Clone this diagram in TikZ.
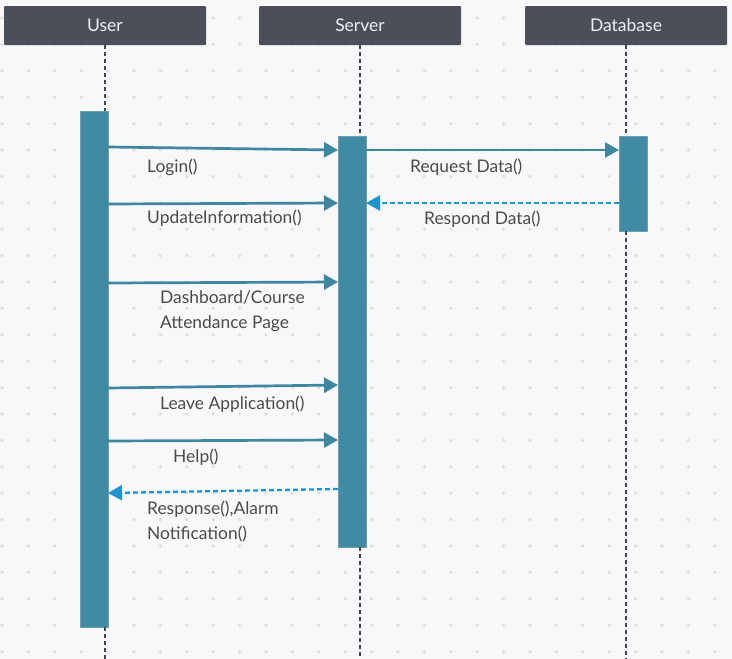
\documentclass[tikz,border=0pt]{standalone}
\usepackage{fontspec}
\setmainfont{Lato}
\usetikzlibrary{arrows.meta}
\definecolor{bgc}{HTML}{F8F8FA}
\definecolor{dotc}{HTML}{DCDCE1}
\definecolor{headc}{HTML}{4A4F59}
\definecolor{headtxt}{HTML}{F0F0F0}
\definecolor{barc}{HTML}{418AA3}
\definecolor{arrc}{HTML}{3E87A0}
\definecolor{retc}{HTML}{1B94CF}
\definecolor{lifec}{HTML}{40454F}
\definecolor{txtc}{HTML}{4B4B4B}
\tikzset{
  header/.style={fill=headc, draw=none, rounded corners=1pt, minimum width=202pt, minimum height=39pt, text=headtxt, font=\fontsize{17.5}{20}\selectfont, inner sep=0pt},
  actbar/.style={fill=barc, draw=barc!80!white, line width=0.6pt, minimum width=28pt, inner sep=0pt},
  lifeline/.style={draw=lifec, line width=2.2pt, dash pattern=on 4pt off 3pt},
  msg/.style={draw=arrc, line width=2.7pt, -{Triangle[length=14pt,width=15pt]}},
  ret/.style={draw=retc, line width=2.3pt, dash pattern=on 5pt off 3pt, -{Triangle[length=14pt,width=15pt]}},
  lbl/.style={text=txtc, font=\fontsize{17.4}{25}\selectfont, inner sep=0pt, align=left},
}
\begin{document}
\begin{tikzpicture}[x=1pt,y=-1pt]
\useasboundingbox (0,0) rectangle (732,659);
\fill[bgc] (0,0) rectangle (732,659);
% dot grid
\foreach \i in {0,...,27} {
  \foreach \j in {0,...,24} {
    \fill[dotc] ({2+26.4*\i},{18+26.4*\j}) circle (1.8pt);
  }
}
% headers
\node[header] (user) at (105,25.5) {User};
\node[header] (server) at (360,25.5) {Server};
\node[header] (db) at (626,25.5) {Database};
% activation bars
\node[actbar, minimum height=516pt] (ubar) at (94,369) {};
\node[actbar, minimum height=411pt] (sbar) at (352,341.5) {};
\node[actbar, minimum height=95pt] (dbar) at (633,183.5) {};
% lifelines
\coordinate (uend) at (105,659);
\coordinate (send) at (360,659);
\coordinate (dend) at (626,659);
\draw[lifeline] (user.south) -- (105,111);
\draw[lifeline] (105,627) -- (uend);
\draw[lifeline] (server.south) -- (360,136);
\draw[lifeline] (360,547) -- (send);
\draw[lifeline] (db.south) -- (626,136);
\draw[lifeline] (626,231) -- (dend);
% messages
\draw[msg] (108,147) -- (338,150);
\draw[msg] (366,150) -- (619,150);
\draw[msg] (108,204) -- (338,203);
\draw[ret] (619,203) -- (366,203);
\draw[msg] (108,283) -- (338,282);
\draw[msg] (108,388) -- (338,385);
\draw[msg] (108,441) -- (338,440);
\draw[ret] (338,489) -- (108,493);
% labels
\node[lbl, anchor=west] (l1) at (147,167) {Login()};
\node[lbl, anchor=west] (l2) at (410,167) {Request Data()};
\node[lbl, anchor=west] (l3) at (147,218) {UpdateInformation()};
\node[lbl, anchor=west] (l4) at (424,219) {Respond Data()};
\node[lbl, anchor=west] (l5) at (160,311) {Dashboard/Course\\Attendance Page};
\node[lbl, anchor=west] (l6) at (160,404) {Leave Application()};
\node[lbl, anchor=west] (l7) at (173,457) {Help()};
\node[lbl, anchor=west] (l8) at (147,522) {Response(),Alarm\\Notification()};
\end{tikzpicture}
\end{document}
